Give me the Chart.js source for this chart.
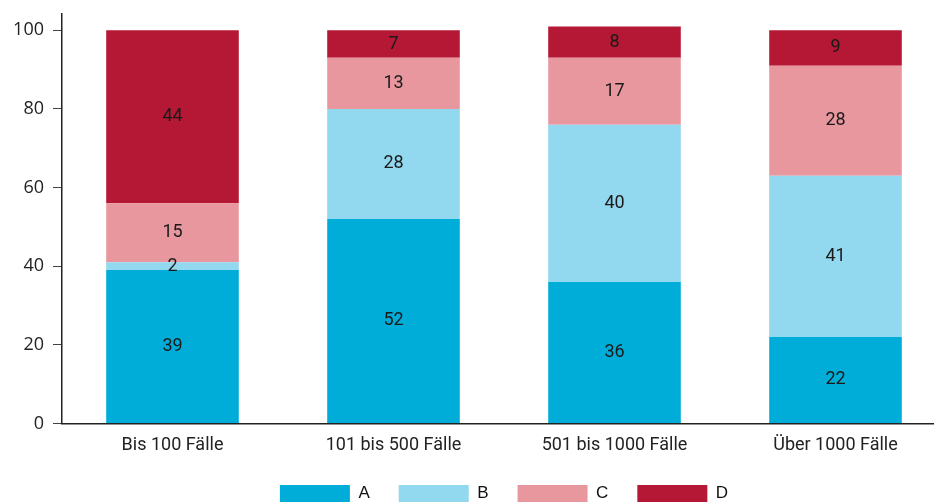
<!DOCTYPE html>
<html>
<head>
<meta charset="utf-8">
<script src="https://cdn.jsdelivr.net/npm/chart.js@4.4.1/dist/chart.umd.min.js"></script>
<style>
  html, body { margin: 0; padding: 0; background: #fff; overflow: hidden; }
  #wrap { width: 946px; height: 509px; margin-top: -6px; }
</style>
</head>
<body>
<div id="wrap"><canvas id="chart"></canvas></div>
<script>
'use strict';

// categories and series
const categories = ['Bis 100 Fälle', '101 bis 500 Fälle', '501 bis 1000 Fälle', 'Über 1000 Fälle'];
const seriesNames = ['A', 'B', 'C', 'D'];
const valuesA = [39, 52, 36, 22];
const valuesB = [2, 28, 40, 41];
const valuesC = [15, 13, 17, 28];
const valuesD = [44, 7, 8, 9];
const yTicks = [0, 20, 40, 60, 80, 100];

const colors = ['#00add8', '#92d8ee', '#e9979f', '#b41834'];
const allValues = [valuesA, valuesB, valuesC, valuesD];

// writes the numbers in the middle of each bar segment
const barLabels = {
  id: 'barLabels',
  afterDatasetsDraw(chart) {
    const ctx = chart.ctx;
    ctx.save();
    ctx.font = '18px Roboto, "Noto Sans", sans-serif';
    ctx.fillStyle = '#1a1a1a';
    ctx.textAlign = 'center';
    ctx.textBaseline = 'middle';
    chart.data.datasets.forEach((ds, i) => {
      const meta = chart.getDatasetMeta(i);
      meta.data.forEach((bar, j) => {
        const p = bar.getCenterPoint();
        ctx.fillText(ds.data[j], p.x, p.y);
      });
    });
    ctx.restore();
  }
};

let datasets = [];
for (let i = 0; i < seriesNames.length; i++) {
  datasets.push({
    label: seriesNames[i],
    data: allValues[i],
    backgroundColor: colors[i],
    borderWidth: 0,
    barPercentage: 0.6,
    categoryPercentage: 1
  });
}

const myChart = new Chart(document.getElementById('chart'), {
  type: 'bar',
  data: { labels: categories, datasets: datasets },
  options: {
    responsive: true,
    maintainAspectRatio: false,
    animation: false,
    layout: { padding: { top: 0, right: 0, bottom: -9, left: 0 } },
    plugins: {
      tooltip: { enabled: false },
      legend: {
        position: 'bottom',
        fullSize: false,
        labels: {
          boxWidth: 70,
          boxHeight: 17,
          padding: 29,
          color: '#111',
          font: { family: '"Liberation Sans", Arial, sans-serif', size: 17 }
        }
      }
    },
    scales: {
      x: {
        stacked: true,
        grid: { display: false, drawTicks: false },
        border: { display: true, color: '#222', width: 1.5 },
        ticks: {
          color: '#222',
          padding: 11,
          font: { family: 'Roboto, "Noto Sans", sans-serif', size: 18 }
        },
        afterFit(axis) {
          axis.height = axis.height - 11;
        }
      },
      y: {
        stacked: true,
        min: 0,
        max: 104.2,
        afterBuildTicks(axis) {
          axis.ticks = yTicks.map(v => ({ value: v }));
        },
        afterFit(axis) {
          axis.width = 62;
        },
        grid: { drawOnChartArea: false, drawTicks: true, tickLength: 9, color: '#444' },
        border: { display: true, color: '#222', width: 1.5 },
        ticks: {
          color: '#222',
          padding: 9,
          font: { family: '"Open Sans", "Noto Sans", sans-serif', size: 18 }
        }
      }
    }
  },
  plugins: [barLabels]
});
</script>
</body>
</html>
